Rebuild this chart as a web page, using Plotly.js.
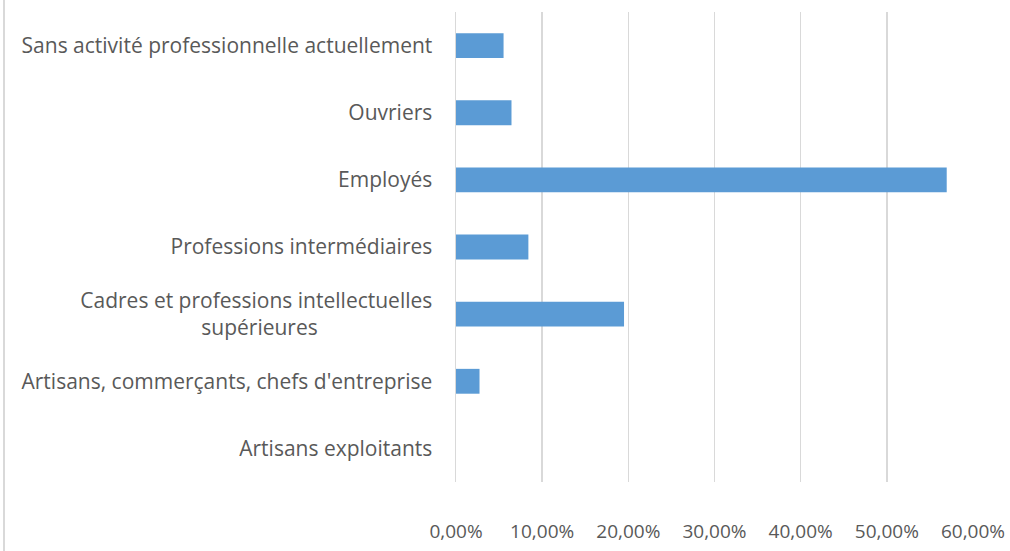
<!DOCTYPE html>
<html>
<head>
<meta charset="utf-8">
<script src="https://cdn.plot.ly/plotly-3.0.1.min.js"></script>
<style>
html,body{margin:0;padding:0;background:#fff;}
#wrap{position:absolute;left:0;top:0;width:1010px;height:551px;}
#edge{position:absolute;left:3px;top:0;width:2px;height:551px;background:#d9d9d9;}
#chart{position:absolute;left:0;top:0;width:1010px;height:551px;}
</style>
</head>
<body>
<div id="wrap"><div id="edge"></div><div id="chart"></div></div>
<script>
var categories = [
  "Artisans exploitants",
  "Artisans, commerçants, chefs d'entreprise",
  "Cadres et professions intellectuelles<br>supérieures" + "\u00a0".repeat(21),
  "Professions intermédiaires",
  "Employés",
  "Ouvriers",
  "Sans activité professionnelle actuellement"
];
var values = [0, 0.0273, 0.195, 0.084, 0.5695, 0.0644, 0.0552];
var tickVals = [0, 0.1, 0.2, 0.3, 0.4, 0.5, 0.6];

var trace = {
  type: 'bar',
  orientation: 'h',
  y: categories,
  x: values,
  marker: {color: '#5B9BD5'},
  hoverinfo: 'x+y'
};

var layout = {
  width: 1010,
  height: 551,
  margin: {l: 456, r: 37, t: 12, b: 69},
  paper_bgcolor: 'rgba(0,0,0,0)',
  plot_bgcolor: 'rgba(0,0,0,0)',
  separators: ', ',
  bargap: 0.63,
  showlegend: false,
  font: {family: 'Open Sans, sans-serif', size: 17, color: '#595959'},
  xaxis: {
    range: [0, 0.6],
    tickvals: tickVals,
    tickformat: '.2%',
    showgrid: true,
    gridcolor: '#d9d9d9',
    gridwidth: 1.5,
    zeroline: false,
    showline: false,
    ticks: '',
    ticklabelstandoff: 36,
    tickfont: {size: 19, color: '#595959'},
    fixedrange: true
  },
  yaxis: {
    type: 'category',
    showgrid: false,
    zeroline: false,
    showline: true,
    linecolor: '#d9d9d9',
    linewidth: 1.5,
    ticks: '',
    ticklabelstandoff: 18,
    tickfont: {size: 21, color: '#595959'},
    fixedrange: true
  }
};

Plotly.newPlot('chart', [trace], layout, {displayModeBar: false, staticPlot: true});
</script>
</body>
</html>
